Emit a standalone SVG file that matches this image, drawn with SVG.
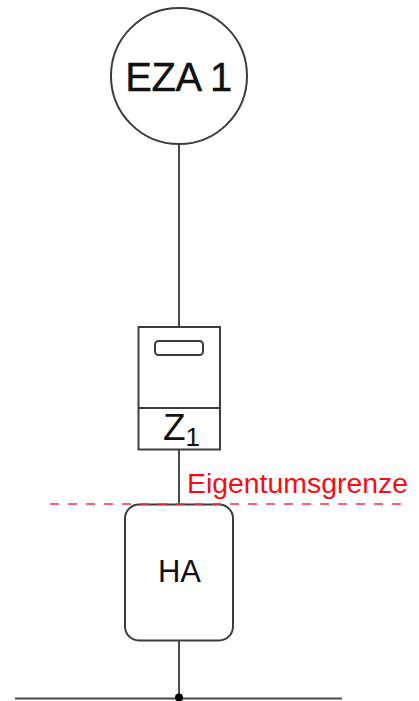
<svg xmlns="http://www.w3.org/2000/svg" width="419" height="701" viewBox="0 0 419 701">
<style>
.s{fill:#fff;stroke:#3c3c3c;stroke-width:2}
.l{fill:none;stroke:#4a4a4a;stroke-width:2}
.t{font-family:"Liberation Sans",Arial,sans-serif;fill:#111}
</style>
<rect width="419" height="701" fill="#fff"/>
<g id="connectors">
<path class="l" d="M179 145V327M179 449V505M179 641V697M15 698.500H342"/>
<circle cx="179" cy="697.500" r="4" fill="#000"/>
</g>
<g id="eza"><circle class="s" cx="179" cy="76" r="68"/><text class="t" x="178.500" y="91" font-size="40" text-anchor="middle" letter-spacing="-0.5" stroke="#111" stroke-width="0.4">EZA 1</text></g>
<g id="z1"><rect class="s" x="138.500" y="327" width="81.500" height="122.500"/><path class="s" d="M138 408H220"/><rect class="s" x="155" y="341" width="48" height="14" rx="3.500"/><text class="t" x="163" y="440" font-size="37">Z<tspan font-size="26" dy="6">1</tspan></text></g>
<g id="ha"><rect class="s" x="125" y="504.500" width="108" height="136" rx="14"/><text class="t" x="179.500" y="582" font-size="31" text-anchor="middle">HA</text></g>
<g id="grenze"><path d="M50 504H410" fill="none" stroke="#f4323c" stroke-width="1.300" stroke-dasharray="9 9"/><text x="187" y="493" font-family="Liberation Sans,Arial,sans-serif" font-size="28.400" fill="#fb0a14">Eigentumsgrenze</text></g>
</svg>
